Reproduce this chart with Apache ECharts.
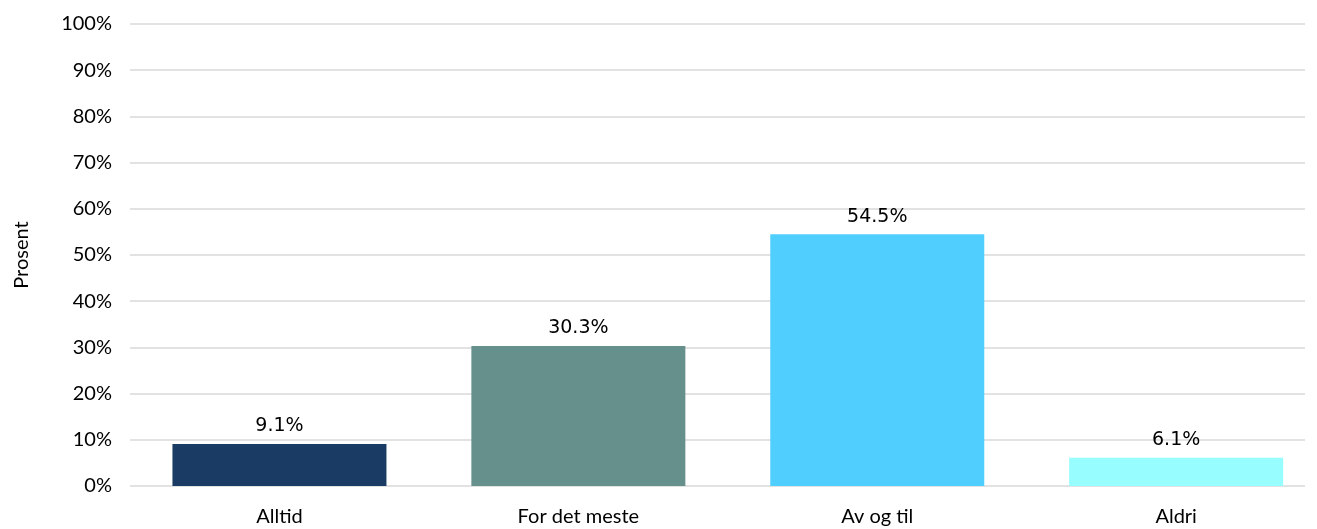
<!DOCTYPE html>
<html><head><meta charset="utf-8">
<script src="https://cdn.jsdelivr.net/npm/echarts@6/dist/echarts.min.js"></script>
<style>html,body{margin:0;padding:0;background:#fff}#c{width:1317px;height:529px}</style>
</head><body><div id="c"></div>
<script>
const categories = ["Alltid", "For det meste", "Av og til", "Aldri"];
const values = [9.1, 30.3, 54.5, 6.1];
const colors = ["#1a3b63", "#66908c", "#50cffe", "#97fdff"];
const yTicks = [0, 10, 20, 30, 40, 50, 60, 70, 80, 90, 100];

const idx = categories.map((c, i) => i);
const chart = echarts.init(document.getElementById('c'), null, {renderer: 'canvas'});
chart.setOption({
  animation: false,
  grid: {left: 130, right: 12, top: 24, bottom: 43, containLabel: false, outerBoundsMode: 'none'},
  xAxis: {
    type: 'value', min: -0.5, max: 3.431,
    axisLine: {show: false}, axisTick: {show: false}, splitLine: {show: false},
    axisLabel: {customValues: idx, formatter: v => categories[Math.round(v)] || '',
      color: '#000', fontFamily: 'Lato', fontSize: 20, margin: 21}
  },
  yAxis: {
    type: 'value', min: 0, max: 100, interval: 10,
    name: 'Prosent', nameLocation: 'middle', nameGap: 98, nameRotate: 90,
    nameTextStyle: {color: '#000', fontFamily: 'Lato', fontSize: 20},
    axisLine: {show: false}, axisTick: {show: false},
    splitLine: {lineStyle: {color: '#d9d9d9', width: 1.5}},
    axisLabel: {color: '#000', fontFamily: 'Lato', fontSize: 20, margin: 18,
      formatter: v => yTicks.includes(v) ? v + '%' : ''}
  },
  series: [{
    type: 'bar', barWidth: 214,
    data: values.map((v, i) => ({value: [idx[i], v], itemStyle: {color: colors[i]}})),
    label: {show: true, position: 'top', distance: 8, color: '#000',
      fontFamily: 'DejaVu Sans', fontSize: 19, formatter: p => p.value[1].toFixed(1) + '%'}
  }]
});
</script></body></html>
